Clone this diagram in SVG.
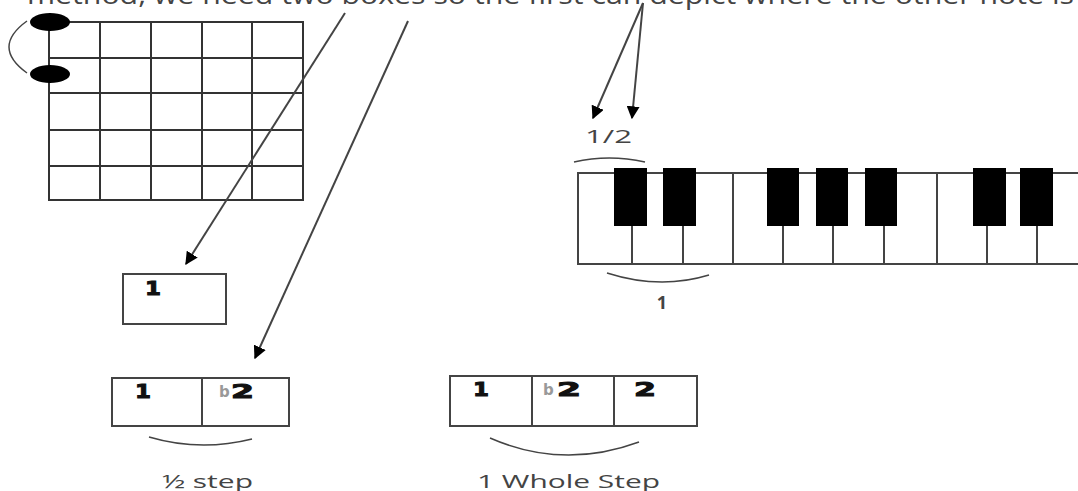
<svg xmlns="http://www.w3.org/2000/svg" width="1078" height="491" viewBox="0 0 1078 491">
<defs>
<marker id="ah" viewBox="0 0 10 10" refX="9" refY="5" markerWidth="13" markerHeight="13" markerUnits="userSpaceOnUse" orient="auto">
<path d="M0,0 L10,5 L0,10 z" fill="#000"/>
</marker>
<style>
.grid{stroke:#333;stroke-width:2;fill:none}
.box{stroke:#444;stroke-width:2;fill:#fff}
.arc{stroke:#444;stroke-width:1.5;fill:none}
.conn{stroke:#444;stroke-width:2;fill:none;marker-end:url(#ah)}
.num{font-family:"DejaVu Sans","Liberation Sans",sans-serif;font-weight:bold;font-size:19px;fill:#111;stroke:#111;stroke-width:1}
.flat{font-family:"DejaVu Sans","Liberation Sans",sans-serif;font-weight:bold;font-size:15px;fill:#999}
.lbl{font-family:"Open Sans","Liberation Sans",sans-serif;font-size:18px;fill:#444}
.key{fill:#000}
.wk{stroke:#444;stroke-width:2;fill:none}
</style>
</defs>
<rect width="1078" height="491" fill="#fff"/>
<text x="27" y="4" font-family="Open Sans, Liberation Sans, sans-serif" font-size="26" fill="#444" textLength="1047" lengthAdjust="spacingAndGlyphs">method, we need two boxes so the first can depict where the other note is</text>

<g id="fretboard">
<path class="grid" d="M49 22H303V200H49Z M100 22V200 M151 22V200 M202 22V200 M252 22V200 M49 58H303 M49 93H303 M49 130H303 M49 166H303"/>
<ellipse cx="50" cy="22" rx="20" ry="9" fill="#000"/>
<ellipse cx="50" cy="74" rx="20" ry="9" fill="#000"/>
<path class="arc" d="M27 21 Q-9 47 27 73"/>
</g>

<g id="piano">
<path class="wk" d="M1078 173H578V264H1078 M632 173V264 M683 173V264 M733 173V264 M783 173V264 M833 173V264 M884 173V264 M937 173V264 M987 173V264 M1037 173V264"/>
<rect class="key" x="614" y="168" width="33" height="58"/>
<rect class="key" x="663" y="168" width="33" height="58"/>
<rect class="key" x="767" y="168" width="32" height="58"/>
<rect class="key" x="816" y="168" width="32" height="58"/>
<rect class="key" x="865" y="168" width="32" height="58"/>
<rect class="key" x="973" y="168" width="33" height="58"/>
<rect class="key" x="1020" y="168" width="33" height="58"/>
<path class="arc" d="M574 162 Q609 154 645 162"/>
<path class="arc" d="M607 273 Q660 290 709 275"/>
<text class="lbl" x="585" y="143" textLength="47" lengthAdjust="spacingAndGlyphs">1/2</text>
<text class="lbl" x="662" y="309" text-anchor="middle" font-weight="bold" font-size="17">1</text>
</g>

<g id="box1">
<rect class="box" x="123" y="274" width="103" height="50"/>
<text class="num" x="145" y="295" textLength="16" lengthAdjust="spacingAndGlyphs">1</text>
</g>

<g id="box2">
<rect class="box" x="112" y="378" width="177" height="48"/>
<line class="box" x1="202" y1="378" x2="202" y2="426"/>
<text class="num" x="135" y="398" textLength="16" lengthAdjust="spacingAndGlyphs">1</text>
<text class="flat" x="219" y="397">b</text>
<text class="num" x="231" y="398" textLength="23" lengthAdjust="spacingAndGlyphs">2</text>
<path class="arc" d="M149 437 Q200 452 252 439"/>
<text class="lbl" x="162" y="488" textLength="91" lengthAdjust="spacingAndGlyphs">½ step</text>
</g>

<g id="box3">
<rect class="box" x="450" y="376" width="247" height="50"/>
<line class="box" x1="532" y1="376" x2="532" y2="426"/>
<line class="box" x1="614" y1="376" x2="614" y2="426"/>
<text class="num" x="473" y="396" textLength="16" lengthAdjust="spacingAndGlyphs">1</text>
<text class="flat" x="543" y="395">b</text>
<text class="num" x="557" y="396" textLength="24" lengthAdjust="spacingAndGlyphs">2</text>
<text class="num" x="634" y="396" textLength="22" lengthAdjust="spacingAndGlyphs">2</text>
<path class="arc" d="M490 438 Q563 470 639 442"/>
<text class="lbl" x="477" y="488" textLength="183" lengthAdjust="spacingAndGlyphs">1 Whole Step</text>
</g>

<g id="connectors">
<line class="conn" x1="345" y1="13" x2="186" y2="264"/>
<line class="conn" x1="408" y1="21" x2="255" y2="358"/>
<line class="conn" x1="643" y1="3" x2="593" y2="118"/>
<line class="conn" x1="643" y1="3" x2="632" y2="118"/>
</g>
</svg>
